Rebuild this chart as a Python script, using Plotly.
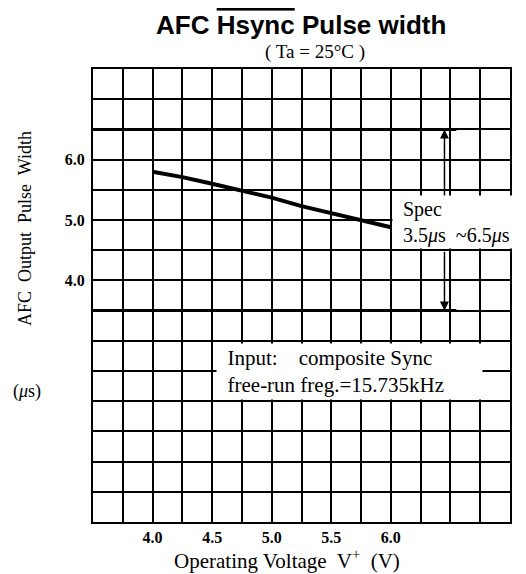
import plotly.graph_objects as go

# Data
voltage = [4.0, 4.25, 4.5, 4.75, 5.0, 5.25, 5.5, 5.75, 6.0]
pulse_width = [5.80, 5.71, 5.60, 5.48, 5.37, 5.23, 5.11, 5.00, 4.88]

spec_low = 3.5
spec_high = 6.5
spec_line_x = [3.5, 6.55]
arrow_x = 6.45
arrow_up_from = 5.36
arrow_down_from = 4.5

x_ticks = [4.0, 4.5, 5.0, 5.5, 6.0]
x_ticktext = ["<b>4.0</b>", "<b>4.5</b>", "<b>5.0</b>", "<b>5.5</b>", "<b>6.0</b>"]
y_ticks = [4.0, 5.0, 6.0]
y_ticktext = ["<b>4.0</b>", "<b>5.0</b>", "<b>6.0</b>"]

SERIF = "Liberation Serif, Times New Roman, serif"
SANS = "Liberation Sans, Arial, sans-serif"

fig = go.Figure()

# spec limit lines
for lim in (spec_high, spec_low):
    fig.add_trace(go.Scatter(x=spec_line_x, y=[lim, lim], mode="lines",
                             line=dict(color="black", width=3), hoverinfo="skip"))

# measured curve
fig.add_trace(go.Scatter(x=voltage, y=pulse_width, mode="lines",
                         line=dict(color="black", width=4), hoverinfo="skip"))

# spec arrows
for start, lim in ((arrow_up_from, spec_high), (arrow_down_from, spec_low)):
    fig.add_annotation(x=arrow_x, y=lim, ax=arrow_x, ay=start, xref="x", yref="y",
                       axref="x", ayref="y", showarrow=True, arrowhead=2,
                       arrowsize=1.2, arrowwidth=1.5, arrowcolor="black", text="")

# text boxes (white background hides the grid behind them)
fig.add_annotation(x=6.01, y=4.97, xref="x", yref="y", xanchor="left", yanchor="middle",
                   text="  Spec<br>  3.5<i>μ</i>s  ~6.5<i>μ</i>s", align="left", showarrow=False,
                   width=134, height=52, bgcolor="white", borderpad=0,
                   font=dict(family=SERIF, size=20, color="black"))
fig.add_annotation(x=4.53, y=2.5, xref="x", yref="y", xanchor="left", yanchor="middle",
                   text="  Input:    composite Sync<br>  free-run freg.=15.735kHz", align="left",
                   showarrow=False, width=265, height=55, bgcolor="white", borderpad=0,
                   font=dict(family=SERIF, size=21, color="black"))

# titles
fig.add_annotation(x=0.499, y=1, xref="paper", yref="paper", yshift=44, yanchor="middle",
                   text="<b>AFC <span style='text-decoration:overline'>Hsync</span> Pulse width</b>",
                   showarrow=False, font=dict(family=SANS, size=26, color="black"))
fig.add_annotation(x=0.532, y=1, xref="paper", yref="paper", yshift=17, yanchor="middle",
                   text="( Ta = 25°C )", showarrow=False,
                   font=dict(family=SERIF, size=19, color="black"))
fig.add_annotation(x=-0.163, y=0.647, xref="paper", yref="paper", textangle=-90,
                   xanchor="center", yanchor="middle",
                   text="AFC  Output  Pulse  Width", showarrow=False,
                   font=dict(family=SERIF, size=18, color="black"))
fig.add_annotation(x=-0.158, y=0.287, xref="paper", yref="paper",
                   xanchor="center", yanchor="middle",
                   text="(<i>μ</i>s)", showarrow=False,
                   font=dict(family=SERIF, size=18, color="black"))
fig.add_annotation(x=0.465, y=0, xref="paper", yref="paper", yshift=-37,
                   xanchor="center", yanchor="middle",
                   text="Operating Voltage  V<sup>+</sup>  (V)", showarrow=False,
                   font=dict(family=SERIF, size=21, color="black"))

fig.update_xaxes(range=[3.5, 7.0], tickvals=x_ticks, ticktext=x_ticktext,
                 showgrid=True, gridcolor="black", gridwidth=1.6,
                 minor=dict(dtick=0.25, tick0=3.5, showgrid=True, gridcolor="black", gridwidth=1.6),
                 showline=True, linecolor="black", linewidth=2, mirror=True,
                 zeroline=False, ticks="", ticklen=0, ticklabelstandoff=0,
                 tickfont=dict(family=SERIF, size=16, color="black"))
fig.update_yaxes(range=[0, 7.5], tickvals=y_ticks, ticktext=y_ticktext,
                 showgrid=True, gridcolor="black", gridwidth=1.6,
                 minor=dict(dtick=0.5, tick0=0, showgrid=True, gridcolor="black", gridwidth=1.6),
                 showline=True, linecolor="black", linewidth=2, mirror=True,
                 zeroline=False, ticks="", ticklen=0, ticklabelstandoff=3,
                 tickfont=dict(family=SERIF, size=16, color="black"))

# the page body adds an 8px margin, so the figure is 8px smaller than the window
fig.update_layout(width=518, height=566, showlegend=False,
                  margin=dict(l=85, r=16, t=61, b=52),
                  plot_bgcolor="white", paper_bgcolor="white")

fig.write_html("out.html")
